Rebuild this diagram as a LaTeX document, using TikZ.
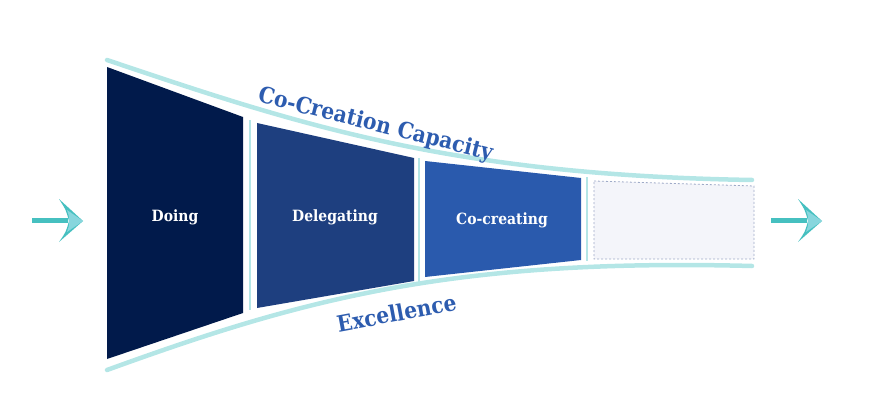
\documentclass[tikz,border=0pt]{standalone}
\usepackage{fontspec}
\setmainfont{DejaVu Serif Condensed}
\usepackage{xcolor}
\usepackage{tikz}

\definecolor{navyseg}{HTML}{011A4B}
\definecolor{midseg}{HTML}{1E3F7F}
\definecolor{brightseg}{HTML}{2A5AAD}
\definecolor{funnelline}{HTML}{B4E6E6}
\definecolor{labelblue}{HTML}{2D5CAF}
\definecolor{boxfill}{HTML}{F4F5FA}
\definecolor{boxline}{HTML}{9FABC8}
\definecolor{arrowdark}{HTML}{46C0C0}
\definecolor{arrowlight}{HTML}{87D6DD}

\tikzset{
	funnel/.style={draw=funnelline, line width=4.5pt, line cap=round},
	divider/.style={draw=funnelline, line width=2.6pt},
	seglabel/.style={white, anchor=base, font=\fontsize{15.5}{18}\selectfont\bfseries},
	funnellabel/.style={labelblue, anchor=base, font=\fontsize{22.5}{26}\selectfont\bfseries},
}

\begin{document}
\begin{tikzpicture}[x=1pt,y=-1pt]
	\useasboundingbox (0,0) rectangle (880,414);
	% funnel outline
	\draw[funnel] (107,60) .. controls (300,125) and (450,175) .. (752,180);
	\draw[funnel] (107,370) .. controls (300,300) and (450,258) .. (752,266);
	% stages
	\fill[navyseg] (107,67) -- (243,117) -- (243,313) -- (107,359) -- cycle;
	\fill[midseg] (257,123) -- (414,158) -- (414,281) -- (257,308) -- cycle;
	\fill[brightseg] (425,161) -- (581,178) -- (581,260) -- (425,277) -- cycle;
	\draw[draw=boxline, fill=boxfill, line width=0.8pt, dash pattern=on 2pt off 2pt] (594,181) -- (754,186) -- (754,259) -- (594,259) -- cycle;
	\draw[divider] (250,120) -- (250,310);
	\draw[divider] (419,158) -- (419,282);
	\draw[divider] (587,177) -- (587,261);
	\node[seglabel] (doing) at (175,221) {Doing};
	\node[seglabel] (delegating) at (335,221) {Delegating};
	\node[seglabel] (cocreating) at (502,224) {Co-creating};
	% curve labels
	\node[funnellabel, rotate=-14] (capacity) at (374,131) {Co-Creation Capacity};
	\node[funnellabel, rotate=10.5] (excellence) at (398,321) {Excellence};
	% in arrow
	\fill[arrowdark] (32,218) rectangle (68,223);
	\fill[arrowdark] (59,199) -- (83,221) -- (59,242) .. controls (66,232) .. (69,221) .. controls (66,210) .. cycle;
	\fill[arrowlight] (67,210) -- (83,221) -- (67,232) .. controls (69,226) .. (69,221) .. controls (69,216) .. cycle;
	% out arrow
	\fill[arrowdark] (771,218) rectangle (807,223);
	\fill[arrowdark] (798,199) -- (822,221) -- (798,242) .. controls (805,232) .. (808,221) .. controls (805,210) .. cycle;
	\fill[arrowlight] (806,210) -- (822,221) -- (806,232) .. controls (808,226) .. (808,221) .. controls (808,216) .. cycle;
\end{tikzpicture}
\end{document}
